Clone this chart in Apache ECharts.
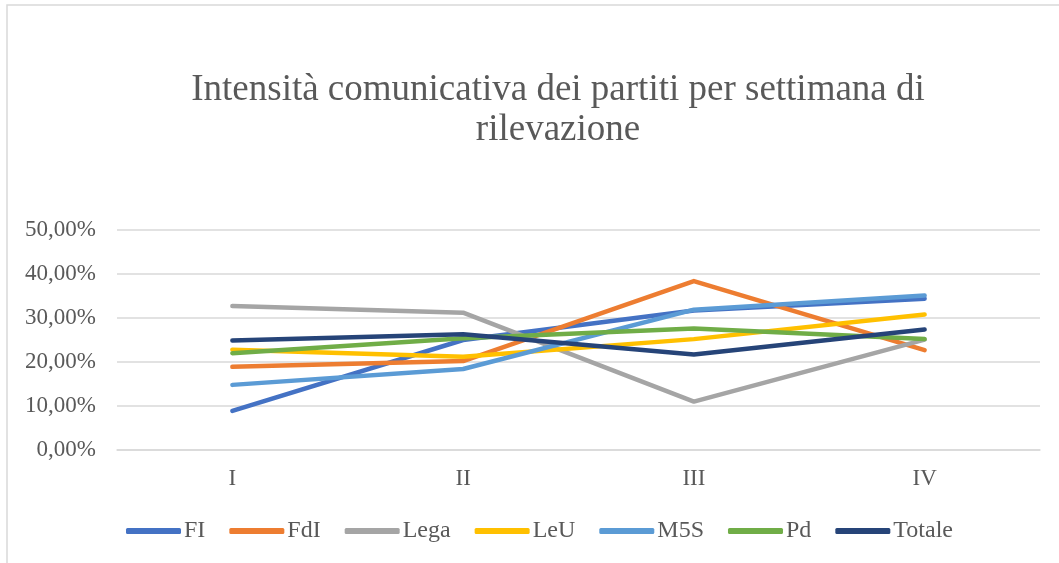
<!DOCTYPE html>
<html>
<head>
<meta charset="utf-8">
<script src="https://cdn.jsdelivr.net/npm/echarts@6/dist/echarts.min.js"></script>
<style>
  html, body { margin: 0; padding: 0; background: #fff; }
  #chart { width: 1059px; height: 563px; }
</style>
</head>
<body>
<div id="chart"></div>
<script>
// Weeks of observation
const categories = ['I', 'II', 'III', 'IV'];

// Share of communication per party, in percent
const FI     = [8.9, 25.0, 31.7, 34.4];
const FdI    = [18.9, 20.2, 38.4, 22.7];
const Lega   = [32.7, 31.2, 11.0, 25.1];
const LeU    = [22.8, 21.2, 25.2, 30.8];
const M5S    = [14.8, 18.4, 31.9, 35.1];
const Pd     = [22.0, 25.4, 27.6, 25.2];
const Totale = [24.9, 26.3, 21.7, 27.4];

const seriesNames = ['FI', 'FdI', 'Lega', 'LeU', 'M5S', 'Pd', 'Totale'];
const seriesData = [FI, FdI, Lega, LeU, M5S, Pd, Totale];
const colors = ['#4472C4', '#ED7D31', '#A5A5A5', '#FFC000', '#5B9BD5', '#70AD47', '#264478'];

const serif = '"Liberation Serif", "Times New Roman", serif';
const textGray = '#595959';
const gridGray = '#D9D9D9';

const chart = echarts.init(document.getElementById('chart'), null, { renderer: 'canvas' });

chart.setOption({
  animation: false,
  color: colors,
  title: {
    text: 'Intensità comunicativa dei partiti per settimana di\nrilevazione',
    left: 553,
    top: 65,
    textAlign: 'center',
    textStyle: {
      fontFamily: serif,
      fontSize: 37,
      fontWeight: 'normal',
      color: textGray,
      lineHeight: 40
    }
  },
  graphic: [{
    type: 'rect',
    shape: { x: 7, y: 5, width: 1200, height: 1000 },
    style: { fill: 'none', stroke: gridGray, lineWidth: 1.5 },
    silent: true
  }],
  legend: {
    left: 121,
    top: 514,
    itemWidth: 55,
    itemHeight: 6,
    itemGap: 24,
    icon: 'roundRect',
    textStyle: { fontFamily: serif, fontSize: 24, color: textGray, padding: [0, 0, 0, -2] },
    data: seriesNames
  },
  grid: { left: 117, right: 19, top: 230, bottom: 113 },
  xAxis: {
    type: 'category',
    data: categories,
    boundaryGap: true,
    axisLine: { lineStyle: { color: gridGray, width: 1.5 } },
    axisTick: { show: false },
    axisLabel: { fontFamily: serif, fontSize: 23, color: textGray, margin: 17 }
  },
  yAxis: {
    type: 'value',
    min: 0,
    max: 50,
    interval: 10,
    axisLine: { show: false },
    axisTick: { show: false },
    splitLine: { lineStyle: { color: gridGray, width: 1.5 } },
    axisLabel: {
      fontFamily: serif,
      fontSize: 23,
      color: textGray,
      margin: 21,
      formatter: v => v.toFixed(2).replace('.', ',') + '%'
    }
  },
  series: seriesNames.map((name, i) => ({
    name: name,
    type: 'line',
    data: seriesData[i],
    showSymbol: false,
    symbol: 'none',
    lineStyle: { width: 4.5, cap: 'round', join: 'round', color: colors[i] },
    itemStyle: { color: colors[i] }
  }))
});
</script>
</body>
</html>
